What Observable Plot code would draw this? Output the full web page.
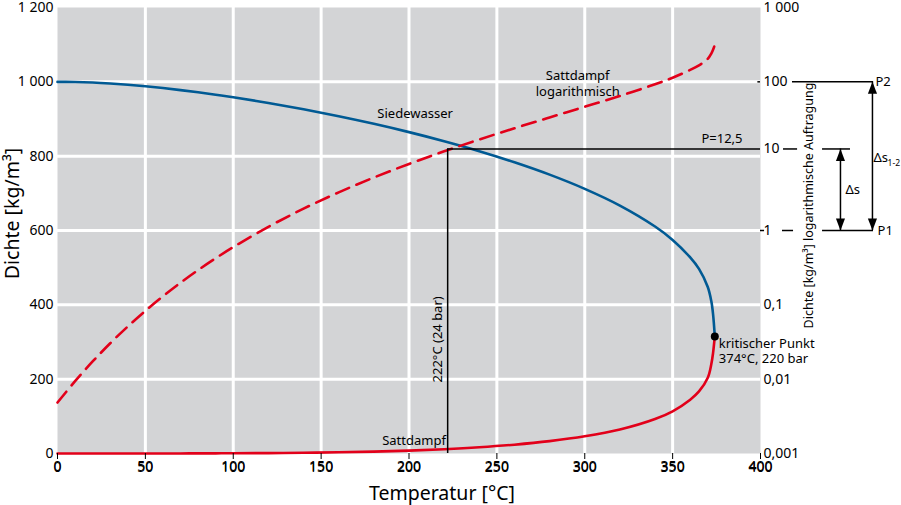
<!DOCTYPE html>
<html><head><meta charset="utf-8">
<script src="https://cdn.jsdelivr.net/npm/d3@7"></script>
<script src="https://cdn.jsdelivr.net/npm/@observablehq/plot@0.6"></script>
<style>
body{margin:0;background:#fff;}
#wrap{position:relative;width:901px;height:505px;}
#wrap svg{position:absolute;left:0;top:0;}
</style></head><body><div id="wrap"></div>
<script>
// Temperature [°C]
const temps = [0,10,20,30,40,50,60,70,80,90,100,120,140,160,180,200,220,240,260,280,300,320,340,350,360,365,370,372,373,374];
// Saturated liquid density (Siedewasser) [kg/m³]
const rhoLiquid = [999.8,999.7,998.2,995.6,992.2,988.0,983.2,977.8,971.8,965.3,958.4,943.1,926.1,907.4,887.0,864.7,840.2,813.4,783.6,750.3,712.1,667.1,610.7,574.7,527.6,496.7,448,410,375,315];
// Saturated vapour density (Sattdampf) [kg/m³]
const rhoVapor = [0.00485,0.0094,0.0173,0.0304,0.0512,0.0831,0.1303,0.1983,0.2935,0.4235,0.5982,1.122,1.967,3.26,5.16,7.864,11.62,16.76,23.73,33.19,46.19,64.6,92.8,113.6,144.8,167,204,240,270,315];

const xTicks = [0,50,100,150,200,250,300,350,400];
const yTicks = [0,200,400,600,800,1000,1200];
const rightTickValues = [0.001,0.01,0.1,1,12.5,100,1000];
const rightTickLabels = ["0,001","0,01","0,1","1","10","100","1 000"];

const critical = [{T:374, rho:315}];
const operating = {T:222, p:12.5};

const FONT = "'Noto Sans', sans-serif";
const BLUE = "#005a94";
const RED = "#e2001a";
const GRAY = "#d3d4d6";

const liquid = temps.map((t,i)=>({T:t, rho:rhoLiquid[i]}));
const vapor = temps.map((t,i)=>({T:t, rho:rhoVapor[i]}));

const common = {
  width:901, height:505, marginLeft:57, marginRight:141, marginTop:7, marginBottom:52,
  style:{fontFamily:FONT, fontSize:"14px", color:"#000", background:"transparent", overflow:"visible"},
  x:{domain:[0,400]}
};
const spaceFmt = d => d3.format(",")(d).replace(/,/g, " ");

// Linear plot
const p1 = Plot.plot({
  ...common,
  y:{domain:[0,1200]},
  marks:[
    Plot.frame({fill:GRAY, stroke:null}),
    Plot.ruleX(xTicks.slice(1,-1), {stroke:"#fff", strokeWidth:3}),
    Plot.ruleY(yTicks.slice(1,-1), {stroke:"#fff", strokeWidth:3}),
    Plot.axisX({ticks:xTicks, tickSize:0, tickPadding:8, label:null, fontSize:14}),
    Plot.axisY({ticks:yTicks, tickSize:0, tickPadding:4, tickFormat:spaceFmt, label:null, fontSize:14}),
    Plot.text(["Temperatur [°C]"], {frameAnchor:"bottom", dx:33, dy:40, fontSize:19.5, lineAnchor:"middle", textAnchor:"middle"}),
    Plot.text(["Dichte [kg/m³]"], {frameAnchor:"left", dx:-45, dy:-17, rotate:-90, fontSize:19.5, lineAnchor:"middle", textAnchor:"middle"}),
    Plot.line(liquid, {x:"T", y:"rho", stroke:BLUE, strokeWidth:2.6, curve:"catmull-rom"}),
    Plot.line(vapor, {x:"T", y:"rho", stroke:RED, strokeWidth:2.6, curve:"catmull-rom"}),
    Plot.text(["Siedewasser"], {x:182, y:915, textAnchor:"start", fontSize:13}),
    Plot.text(["Sattdampf\nlogarithmisch"], {x:296, y:997, textAnchor:"middle", fontSize:13, lineHeight:1.2}),
    Plot.text(["Sattdampf"], {x:221, y:35, textAnchor:"end", fontSize:13}),
    Plot.text(["222°C (24 bar)"], {x:216.6, y:307, rotate:-90, fontSize:13}),
    Plot.text(["kritischer Punkt\n374°C, 220 bar"], {x:374, y:277, dx:4, textAnchor:"start", fontSize:13, lineHeight:1.2}),
    Plot.dot(critical, {x:"T", y:"rho", r:4, fill:"#000"})
  ]
});

// arrowhead symbol with tip at origin, pointing up
const headSymbol = {
  draw(ctx, size){
    const r = Math.sqrt(size/Math.PI);
    ctx.moveTo(0,0);
    ctx.lineTo(r*0.38, r);
    ctx.lineTo(-r*0.38, r);
    ctx.closePath();
  }
};
const upHeads = [{x:445.5, y:12.5},{x:463.7, y:100}];
const downHeads = [{x:445.5, y:1},{x:463.7, y:1}];

// Logarithmic overlay
const p2 = Plot.plot({
  ...common,
  y:{type:"log", domain:[0.001,1000]},
  marks:[
    Plot.line(vapor, {x:"T", y:"rho", stroke:RED, strokeWidth:2.6, strokeDasharray:"14,8", curve:"catmull-rom"}),
    Plot.axisY({anchor:"right", ticks:rightTickValues, tickSize:0, tickPadding:3, label:null, fontSize:14,
      tickFormat:d=>rightTickLabels[rightTickValues.indexOf(d)]}),
    Plot.text(["Dichte [kg/m³] logarithmische Auftragung"], {frameAnchor:"right", dx:48, dy:-25, rotate:-90, fontSize:12.5, lineAnchor:"middle", textAnchor:"middle"}),
    Plot.ruleX([operating.T], {y1:0.001, y2:operating.p, stroke:"#000", strokeWidth:1.5}),
    Plot.ruleY([operating.p], {x1:operating.T, x2:400, stroke:"#000", strokeWidth:1.5}),
    Plot.text(["P=12,5"], {x:400, y:operating.p, dx:-18, dy:-10, textAnchor:"end", fontSize:13}),
    // small tick dashes at right axis
    Plot.ruleY([100], {x1:398.5, x2:400, stroke:"#000", strokeWidth:1.5}),
    Plot.ruleY([1], {x1:400, x2:402.3, stroke:"#000", strokeWidth:1.5}),
    Plot.ruleY([1], {x1:412.5, x2:418.8, stroke:"#000", strokeWidth:1.5}),
    Plot.ruleY([12.5], {x1:413.1, x2:421.1, stroke:"#000", strokeWidth:1.5}),
    // P lines
    Plot.ruleY([100], {x1:418.2, x2:464.3, stroke:"#000", strokeWidth:1.5}),
    Plot.ruleY([1], {x1:435.3, x2:464.3, stroke:"#000", strokeWidth:1.5}),
    Plot.ruleY([12.5], {x1:435.3, x2:451.2, stroke:"#000", strokeWidth:1.5}),
    Plot.text(["P2"], {x:465.4, y:100, textAnchor:"start", fontSize:13}),
    Plot.text(["P1"], {x:466.6, y:1, textAnchor:"start", fontSize:13}),
    // arrows
    Plot.ruleX([445.5], {y1:1, y2:12.5, stroke:"#000", strokeWidth:1.5}),
    Plot.ruleX([463.7], {y1:1, y2:100, stroke:"#000", strokeWidth:1.5}),
    Plot.dot(upHeads, {x:"x", y:"y", symbol:headSymbol, r:12, fill:"#000", stroke:null}),
    Plot.dot(downHeads, {x:"x", y:"y", symbol:headSymbol, r:12, rotate:180, fill:"#000", stroke:null}),
    Plot.text(["Δs"], {x:448.4, y:3.5, textAnchor:"start", fontSize:13}),
    Plot.text(["Δs"], {x:464.3, y:9.6, textAnchor:"start", fontSize:13}),
    Plot.text(["1-2"], {x:472.3, y:8, textAnchor:"start", fontSize:8.5})
  ]
});

const wrap = document.getElementById("wrap");
wrap.appendChild(p1);
wrap.appendChild(p2);
</script></body></html>
